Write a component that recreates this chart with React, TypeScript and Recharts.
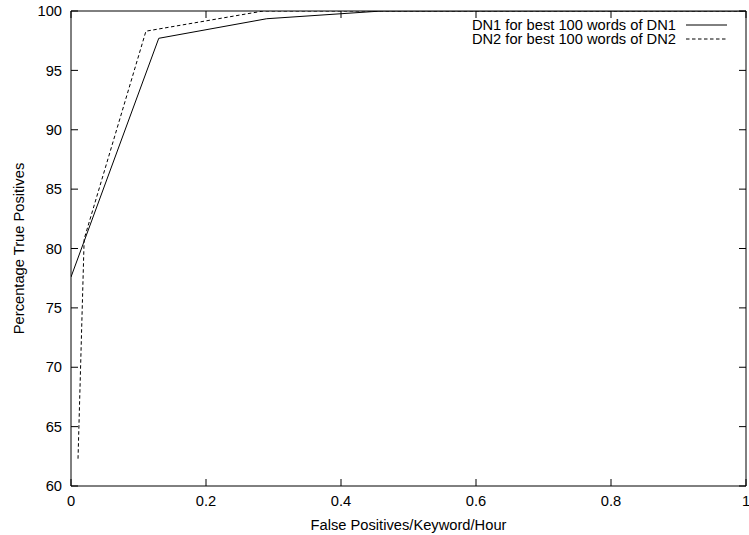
import { CartesianGrid, Legend, Line, LineChart, ReferenceLine, XAxis, YAxis } from 'recharts';

const FONT = '"Liberation Sans", Arial, Helvetica, sans-serif';

const X_TICKS = [0, 0.2, 0.4, 0.6, 0.8, 1];
const Y_TICKS = [60, 65, 70, 75, 80, 85, 90, 95, 100];
const Y_MAX = 100;

// DN1 for best 100 words of DN1 (solid)
const DN1_FP = [0, 0.13, 0.29, 0.46, 1];
const DN1_TP = [77.6, 97.7, 99.35, 100, 100];

// DN2 for best 100 words of DN2 (dashed)
const DN2_FP = [0.0104, 0.0195, 0.111, 0.285, 1];
const DN2_TP = [62.3, 80.8, 98.3, 100, 100];

// second series sits on the mirror y axis (same domain) so that axis gets its ticks
const SERIES = [
  { name: 'DN1 for best 100 words of DN1', fp: DN1_FP, tp: DN1_TP, dash: undefined, yId: 'left' },
  { name: 'DN2 for best 100 words of DN2', fp: DN2_FP, tp: DN2_TP, dash: '3.5 2.5', yId: 'right' },
];

const toPoints = (xs: number[], ys: number[]) => xs.map((x, i) => ({ x, y: ys[i] }));

const tickStyle = { fontSize: 14.7, fontFamily: FONT, fill: '#000' };

// mirror axis: keep the tick marks, drop the labels
const noLabel = () => <g />;

function YLabel({ viewBox }: any): JSX.Element {
  const cx = viewBox.x + 18.5;
  const cy = viewBox.y + viewBox.height / 2;
  return (
    <text
      x={cx}
      y={cy}
      transform={`rotate(-90, ${cx}, ${cy})`}
      textAnchor="middle"
      dominantBaseline="central"
      fontSize={14.7}
      fontFamily={FONT}
      fill="#000"
    >
      Percentage True Positives
    </text>
  );
}

function LegendBox(): JSX.Element {
  return (
    <div style={{ fontFamily: FONT, fontSize: 14.7, color: '#000', lineHeight: '14.5px' }}>
      {SERIES.map((s) => (
        <div
          key={s.name}
          style={{ display: 'flex', alignItems: 'center', justifyContent: 'flex-end', height: 14.5, whiteSpace: 'nowrap' }}
        >
          <span>{s.name}</span>
          <svg width={41} height={4} style={{ marginLeft: 10 }}>
            <line x1={0} y1={2} x2={41} y2={2} stroke="#000" strokeWidth={1} strokeDasharray={s.dash} />
          </svg>
        </div>
      ))}
    </div>
  );
}

export default function App(): JSX.Element {
  return (
    <div style={{ position: 'absolute', left: 0, top: 0, background: '#fff' }}>
      <LineChart width={749} height={535} margin={{ top: 11, right: 2, bottom: 0, left: 0 }}>
        {/* vertical grid lines cut to a 7px dash at the top = inward top ticks */}
        <CartesianGrid
          yAxisId="left"
          horizontal={false}
          vertical
          stroke="#000"
          strokeWidth={1}
          strokeDasharray="7 2000"
        />
        <XAxis
          dataKey="x"
          type="number"
          domain={[0, 1]}
          allowDataOverflow
          ticks={X_TICKS}
          interval={0}
          height={49}
          tickSize={-7}
          tickMargin={16.5}
          tick={tickStyle}
          stroke="#000"
          label={{
            value: 'False Positives/Keyword/Hour',
            position: 'insideBottom',
            offset: 5.5,
            style: { fontSize: 14.7, fontFamily: FONT, fill: '#000' },
          }}
        />
        <YAxis
          yAxisId="left"
          type="number"
          domain={[60, 100]}
          allowDataOverflow
          ticks={Y_TICKS}
          interval={0}
          width={71}
          tickSize={-7}
          tickMargin={16}
          tick={tickStyle}
          stroke="#000"
          label={<YLabel />}
        />
        <YAxis
          yAxisId="right"
          orientation="right"
          type="number"
          domain={[60, 100]}
          allowDataOverflow
          ticks={Y_TICKS}
          interval={0}
          width={1}
          tickSize={-7}
          tick={noLabel}
          stroke="#000"
        />
        <ReferenceLine yAxisId="left" y={Y_MAX} stroke="#000" strokeWidth={1} ifOverflow="visible" />
        <Legend
          layout="vertical"
          align="center"
          verticalAlign="middle"
          content={<LegendBox />}
          wrapperStyle={{ top: 17.5, right: 22, left: 'auto', bottom: 'auto', width: 'auto' }}
        />
        {SERIES.map((s) => (
          <Line
            key={s.name}
            yAxisId={s.yId}
            data={toPoints(s.fp, s.tp)}
            dataKey="y"
            name={s.name}
            type="linear"
            stroke="#000"
            strokeWidth={1}
            strokeDasharray={s.dash}
            dot={false}
            activeDot={false}
            isAnimationActive={false}
          />
        ))}
      </LineChart>
    </div>
  );
}
